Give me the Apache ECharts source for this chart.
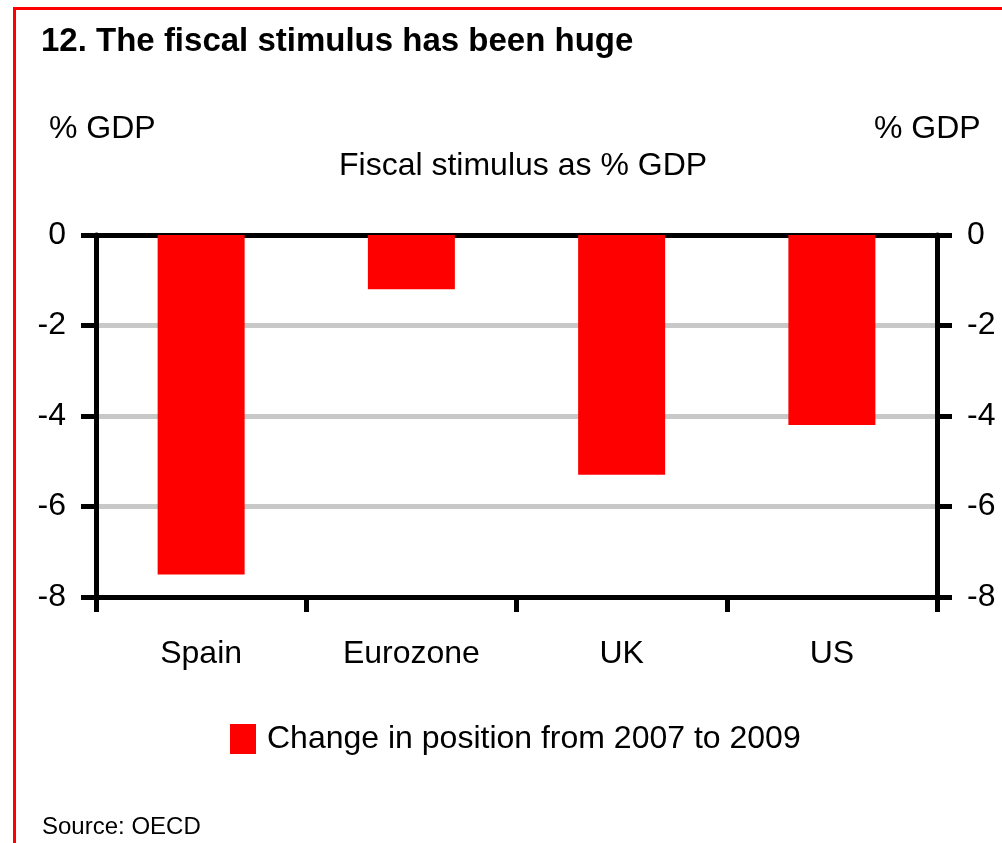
<!DOCTYPE html>
<html>
<head>
<meta charset="utf-8">
<script src="https://cdn.jsdelivr.net/npm/echarts@6/dist/echarts.min.js"></script>
<style>
  html, body { margin: 0; padding: 0; background: #ffffff; }
  #chart { width: 1002px; height: 843px; }
</style>
</head>
<body>
<div id="chart"></div>
<script>
// Chart data
const categories = ['Spain', 'Eurozone', 'UK', 'US'];
const changeValues = [-7.5, -1.2, -5.3, -4.2];
const seriesName = 'Change in position from 2007 to 2009';
const yRange = [-8, 0];
const yStep = 2;

const FONT = '"Liberation Sans", Arial, sans-serif';
const INK = '#000000';

const chart = echarts.init(document.getElementById('chart'), null, { renderer: 'canvas' });

const valueAxisBase = {
  type: 'value',
  min: yRange[0],
  max: yRange[1],
  interval: yStep,
  axisLine: { show: true, lineStyle: { color: INK, width: 5 } },
  axisTick: { show: true, inside: false, length: 15, lineStyle: { color: INK, width: 5 } },
  axisLabel: { margin: 30, color: INK, fontFamily: FONT, fontSize: 32 }
};

chart.setOption({
  backgroundColor: '#ffffff',
  animation: false,
  title: [
    {
      text: '12. The fiscal stimulus has been huge',
      left: 41, top: 22, padding: 0,
      textStyle: { fontFamily: FONT, fontSize: 33, fontWeight: 'bold', color: INK, lineHeight: 40 }
    },
    {
      text: 'Fiscal stimulus as % GDP',
      left: 339, top: 148, padding: 0,
      textStyle: { fontFamily: FONT, fontSize: 32, fontWeight: 'normal', color: INK, lineHeight: 36 }
    },
    {
      text: '% GDP',
      left: 49, top: 111, padding: 0,
      textStyle: { fontFamily: FONT, fontSize: 32, fontWeight: 'normal', color: INK, lineHeight: 36 }
    },
    {
      text: '% GDP',
      left: 874, top: 111, padding: 0,
      textStyle: { fontFamily: FONT, fontSize: 32, fontWeight: 'normal', color: INK, lineHeight: 36 }
    },
    {
      text: 'Source: OECD',
      left: 42, top: 813, padding: 0,
      textStyle: { fontFamily: FONT, fontSize: 24, fontWeight: 'normal', color: INK, lineHeight: 28 }
    }
  ],
  legend: {
    data: [seriesName],
    left: 230, top: 723,
    padding: 0,
    itemWidth: 26, itemHeight: 30,
    icon: 'rect',
    textStyle: { fontFamily: FONT, fontSize: 32, color: INK, padding: [0, 0, 0, 6] }
  },
  grid: { left: 96, right: 65, top: 235, bottom: 246, containLabel: false },
  xAxis: [
    {
      type: 'category',
      data: categories,
      position: 'bottom',
      boundaryGap: true,
      axisLine: { show: true, onZero: false, lineStyle: { color: INK, width: 5 } },
      axisTick: { show: true, inside: false, length: 15, alignWithLabel: false, lineStyle: { color: INK, width: 5 } },
      axisLabel: { margin: 41, color: INK, fontFamily: FONT, fontSize: 32 },
      splitLine: { show: false }
    },
    {
      // zero line along the top of the plot
      type: 'category',
      data: categories,
      position: 'top',
      axisLine: { show: true, onZero: false, lineStyle: { color: INK, width: 5 } },
      axisTick: { show: false },
      axisLabel: { show: false },
      splitLine: { show: false }
    }
  ],
  yAxis: [
    Object.assign({}, valueAxisBase, {
      position: 'left',
      splitLine: { show: true, lineStyle: { color: '#c8c8c8', width: 5 } }
    }),
    Object.assign({}, valueAxisBase, {
      position: 'right',
      splitLine: { show: false }
    })
  ],
  series: [
    {
      name: seriesName,
      type: 'bar',
      xAxisIndex: 0,
      yAxisIndex: 0,
      data: changeValues,
      barWidth: 87,
      itemStyle: { color: '#ff0000' },
      z: 3
    }
  ],
  graphic: [
    {
      type: 'rect',
      silent: true,
      z: 100,
      shape: { x: 14.5, y: 8.5, width: 1200, height: 1000 },
      style: { fill: null, stroke: '#ff0000', lineWidth: 3 }
    }
  ]
});
</script>
</body>
</html>
